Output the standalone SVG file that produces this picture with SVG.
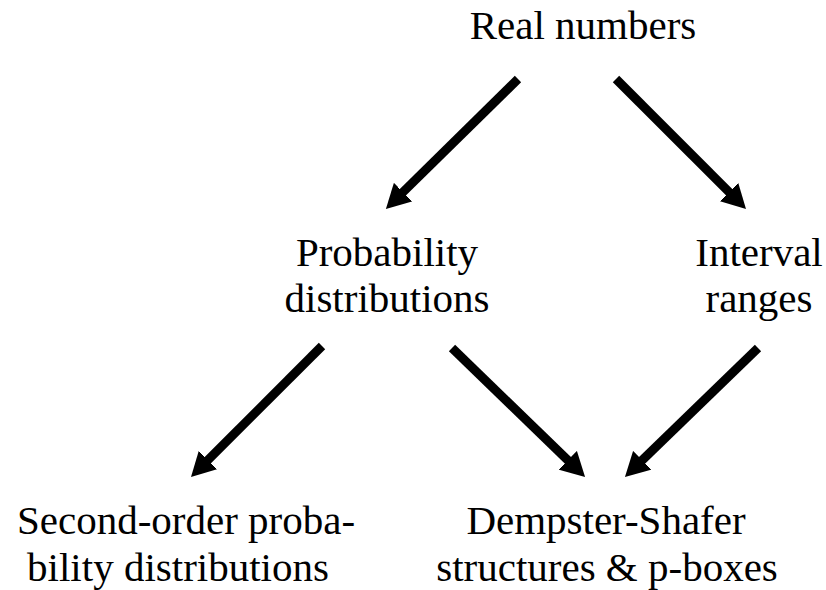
<svg xmlns="http://www.w3.org/2000/svg" width="826" height="590" viewBox="0 0 826 590">
<style>
.t{font-family:"Liberation Serif","Times New Roman",serif;font-size:41px;fill:#000;text-anchor:middle}
.c{stroke:#000;stroke-width:9;fill:none;marker-end:url(#ah)}
</style>
<defs>
<marker id="ah" markerUnits="userSpaceOnUse" markerWidth="24" markerHeight="26" refX="9" refY="13" orient="auto" viewBox="0 0 24 26">
<path d="M0,0 L24,13 L0,26 z" fill="#000"/>
</marker>
</defs>
<rect width="826" height="590" fill="#fff"/>
<g id="connectors">
<line class="c" x1="518" y1="79" x2="396.6" y2="198.4"/>
<line class="c" x1="616" y1="79" x2="735.4" y2="198.4"/>
<line class="c" x1="322" y1="346" x2="201.6" y2="466.4"/>
<line class="c" x1="452" y1="348" x2="574.3" y2="466.5"/>
<line class="c" x1="758" y1="348" x2="635.7" y2="466.5"/>
</g>
<g id="real"><text class="t" x="583" y="39">Real numbers</text></g>
<g id="prob"><text class="t" x="387" y="266">Probability</text><text class="t" x="387" y="312">distributions</text></g>
<g id="interval"><text class="t" x="759" y="266">Interval</text><text class="t" x="759" y="312">ranges</text></g>
<g id="second"><text class="t" x="186" y="534">Second-order proba-</text><text class="t" x="178" y="581">bility distributions</text></g>
<g id="ds"><text class="t" x="606" y="534">Dempster-Shafer</text><text class="t" x="607" y="581">structures &amp; p-boxes</text></g>
</svg>
